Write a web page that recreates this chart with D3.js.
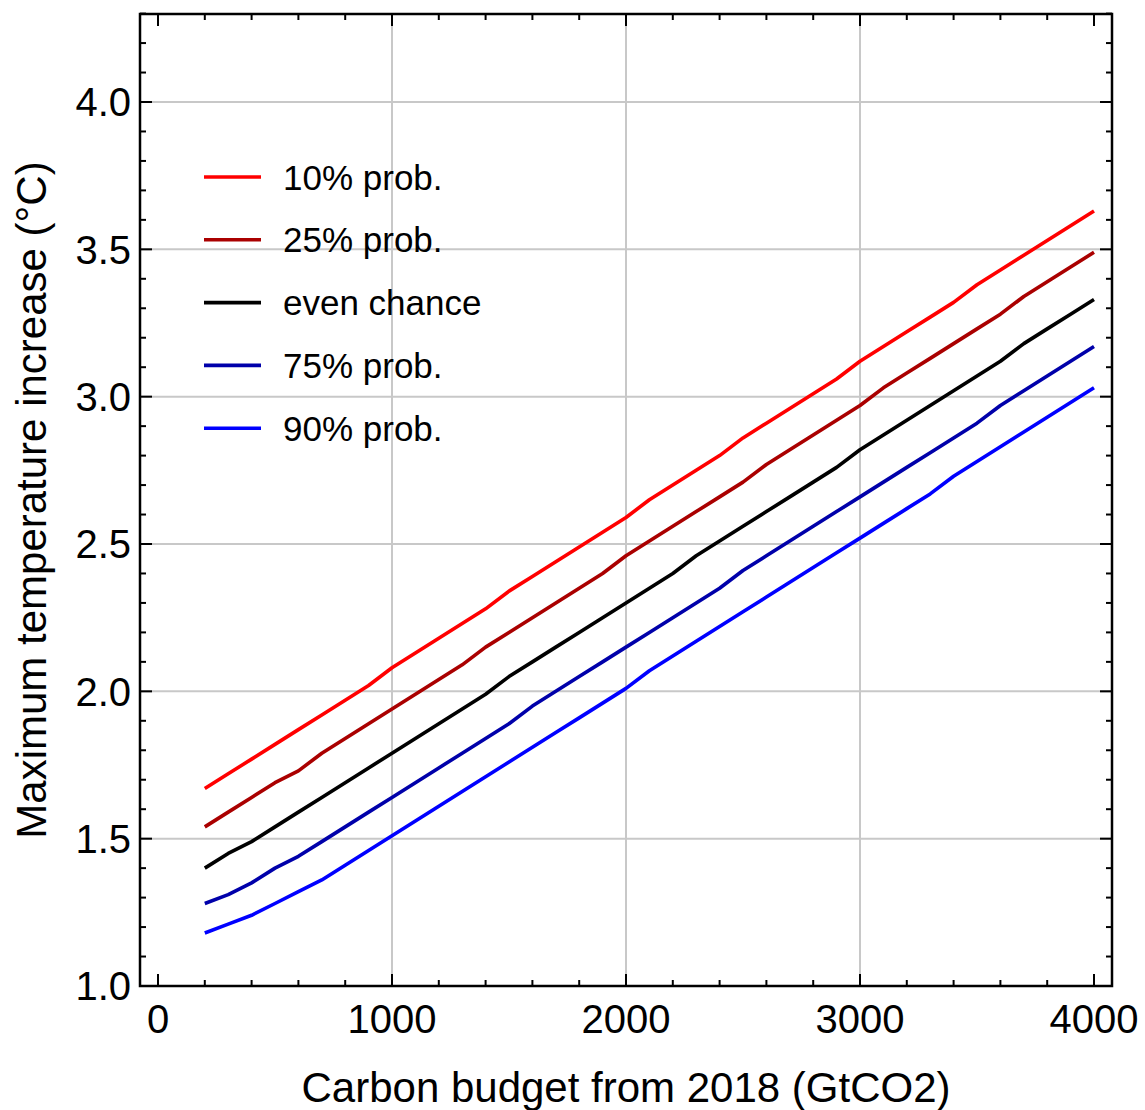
<!DOCTYPE html>
<html>
<head>
<meta charset="utf-8">
<script src="https://cdn.jsdelivr.net/npm/d3@7"></script>
<style>
  html, body { margin: 0; padding: 0; background: #fff; }
  svg { display: block; font-family: "Liberation Sans", Arial, Helvetica, sans-serif; }
</style>
</head>
<body>
<svg id="chart" width="1145" height="1110"></svg>
<script>
// Carbon budget from 2018 (GtCO2)
const budget = [200, 300, 400, 500, 600, 700, 800, 900, 1000, 1100, 1200, 1300, 1400, 1500,
  1600, 1700, 1800, 1900, 2000, 2100, 2200, 2300, 2400, 2500, 2600, 2700, 2800, 2900, 3000,
  3100, 3200, 3300, 3400, 3500, 3600, 3700, 3800, 3900, 4000];

// Maximum temperature increase (°C) for each probability level
const prob10 = [1.67, 1.72, 1.77, 1.82, 1.87, 1.92, 1.97, 2.02, 2.08, 2.13, 2.18, 2.23, 2.28, 2.34,
  2.39, 2.44, 2.49, 2.54, 2.59, 2.65, 2.70, 2.75, 2.80, 2.86, 2.91, 2.96, 3.01, 3.06, 3.12,
  3.17, 3.22, 3.27, 3.32, 3.38, 3.43, 3.48, 3.53, 3.58, 3.63];
const prob25 = [1.54, 1.59, 1.64, 1.69, 1.73, 1.79, 1.84, 1.89, 1.94, 1.99, 2.04, 2.09, 2.15, 2.20,
  2.25, 2.30, 2.35, 2.40, 2.46, 2.51, 2.56, 2.61, 2.66, 2.71, 2.77, 2.82, 2.87, 2.92, 2.97,
  3.03, 3.08, 3.13, 3.18, 3.23, 3.28, 3.34, 3.39, 3.44, 3.49];
const probEven = [1.40, 1.45, 1.49, 1.54, 1.59, 1.64, 1.69, 1.74, 1.79, 1.84, 1.89, 1.94, 1.99, 2.05,
  2.10, 2.15, 2.20, 2.25, 2.30, 2.35, 2.40, 2.46, 2.51, 2.56, 2.61, 2.66, 2.71, 2.76, 2.82,
  2.87, 2.92, 2.97, 3.02, 3.07, 3.12, 3.18, 3.23, 3.28, 3.33];
const prob75 = [1.28, 1.31, 1.35, 1.40, 1.44, 1.49, 1.54, 1.59, 1.64, 1.69, 1.74, 1.79, 1.84, 1.89,
  1.95, 2.00, 2.05, 2.10, 2.15, 2.20, 2.25, 2.30, 2.35, 2.41, 2.46, 2.51, 2.56, 2.61, 2.66,
  2.71, 2.76, 2.81, 2.86, 2.91, 2.97, 3.02, 3.07, 3.12, 3.17];
const prob90 = [1.18, 1.21, 1.24, 1.28, 1.32, 1.36, 1.41, 1.46, 1.51, 1.56, 1.61, 1.66, 1.71, 1.76,
  1.81, 1.86, 1.91, 1.96, 2.01, 2.07, 2.12, 2.17, 2.22, 2.27, 2.32, 2.37, 2.42, 2.47, 2.52,
  2.57, 2.62, 2.67, 2.73, 2.78, 2.83, 2.88, 2.93, 2.98, 3.03];

const seriesNames = ["10% prob.", "25% prob.", "even chance", "75% prob.", "90% prob."];
const seriesValues = [prob10, prob25, probEven, prob75, prob90];
const seriesColors = ["#ff0000", "#aa0000", "#000000", "#0000aa", "#0000ff"];

const xMajorTicks = [0, 1000, 2000, 3000, 4000];
const yMajorTicks = [1.0, 1.5, 2.0, 2.5, 3.0, 3.5, 4.0];

const svg = d3.select("#chart");

// Plot frame in pixels
const frame = { left: 140, right: 1112, top: 14, bottom: 986 };

const x = d3.scaleLinear().domain([0, 4000]).range([158, 1094]);
const y = d3.scaleLinear().domain([1, 4]).range([986, 102]);

// Grid lines at interior major ticks
const grid = svg.append("g").attr("stroke", "#c8c8c8").attr("stroke-width", 2);
xMajorTicks.filter(v => v > 0 && v < 4000).forEach(v => {
  grid.append("line").attr("x1", x(v)).attr("x2", x(v))
    .attr("y1", frame.top).attr("y2", frame.bottom);
});
yMajorTicks.filter(v => v > 1.0).forEach(v => {
  grid.append("line").attr("x1", frame.left).attr("x2", frame.right)
    .attr("y1", y(v)).attr("y2", y(v));
});

// Data lines
const line = d3.line()
  .x((d, i) => x(budget[i]))
  .y(d => y(d));

seriesValues.forEach((vals, k) => {
  svg.append("path")
    .datum(vals)
    .attr("d", line)
    .attr("fill", "none")
    .attr("stroke", seriesColors[k])
    .attr("stroke-width", 3.6)
    .attr("stroke-linejoin", "round");
});

// Inward-pointing ticks on all four sides
const ticks = svg.append("g").attr("stroke", "#000").attr("stroke-width", 2);
const xMinor = d3.range(0, 4001, 200);
xMinor.forEach(v => {
  const len = (v % 1000 === 0) ? 12 : 6;
  ticks.append("line").attr("x1", x(v)).attr("x2", x(v))
    .attr("y1", frame.bottom).attr("y2", frame.bottom - len);
  ticks.append("line").attr("x1", x(v)).attr("x2", x(v))
    .attr("y1", frame.top).attr("y2", frame.top + len);
});
const yMinor = d3.range(10, 44).map(v => v / 10);
yMinor.forEach(v => {
  const len = (Math.round(v * 10) % 5 === 0) ? 12 : 6;
  ticks.append("line").attr("y1", y(v)).attr("y2", y(v))
    .attr("x1", frame.left).attr("x2", frame.left + len);
  ticks.append("line").attr("y1", y(v)).attr("y2", y(v))
    .attr("x1", frame.right).attr("x2", frame.right - len);
});

// Frame
svg.append("rect")
  .attr("x", frame.left).attr("y", frame.top)
  .attr("width", frame.right - frame.left)
  .attr("height", frame.bottom - frame.top)
  .attr("fill", "none").attr("stroke", "#000").attr("stroke-width", 2.5);

// Tick labels
const labelSize = 40;
svg.append("g").selectAll("text").data(xMajorTicks).join("text")
  .attr("x", d => x(d))
  .attr("y", 1033)
  .attr("text-anchor", "middle")
  .attr("font-size", labelSize)
  .attr("fill", "#000")
  .text(d => d3.format("d")(d));

svg.append("g").selectAll("text").data(yMajorTicks).join("text")
  .attr("x", 131)
  .attr("y", d => y(d))
  .attr("dy", "0.36em")
  .attr("text-anchor", "end")
  .attr("font-size", labelSize)
  .attr("fill", "#000")
  .text(d => d3.format(".1f")(d));

// Axis titles
const titleSize = 42;
svg.append("text")
  .attr("x", 626).attr("y", 1102)
  .attr("text-anchor", "middle")
  .attr("font-size", titleSize)
  .attr("fill", "#000")
  .text("Carbon budget from 2018 (GtCO2)");

svg.append("text")
  .attr("transform", "translate(46,500) rotate(-90)")
  .attr("text-anchor", "middle")
  .attr("font-size", titleSize)
  .attr("fill", "#000")
  .text("Maximum temperature increase (°C)");

// Legend
const legend = svg.append("g");
seriesNames.forEach((name, k) => {
  const ly = 177 + k * 62.8;
  legend.append("line")
    .attr("x1", 204).attr("x2", 261)
    .attr("y1", ly).attr("y2", ly)
    .attr("stroke", seriesColors[k]).attr("stroke-width", 3.6);
  legend.append("text")
    .attr("x", 283).attr("y", ly)
    .attr("dy", "0.36em")
    .attr("font-size", 35)
    .attr("fill", "#000")
    .text(name);
});
</script>
</body>
</html>
